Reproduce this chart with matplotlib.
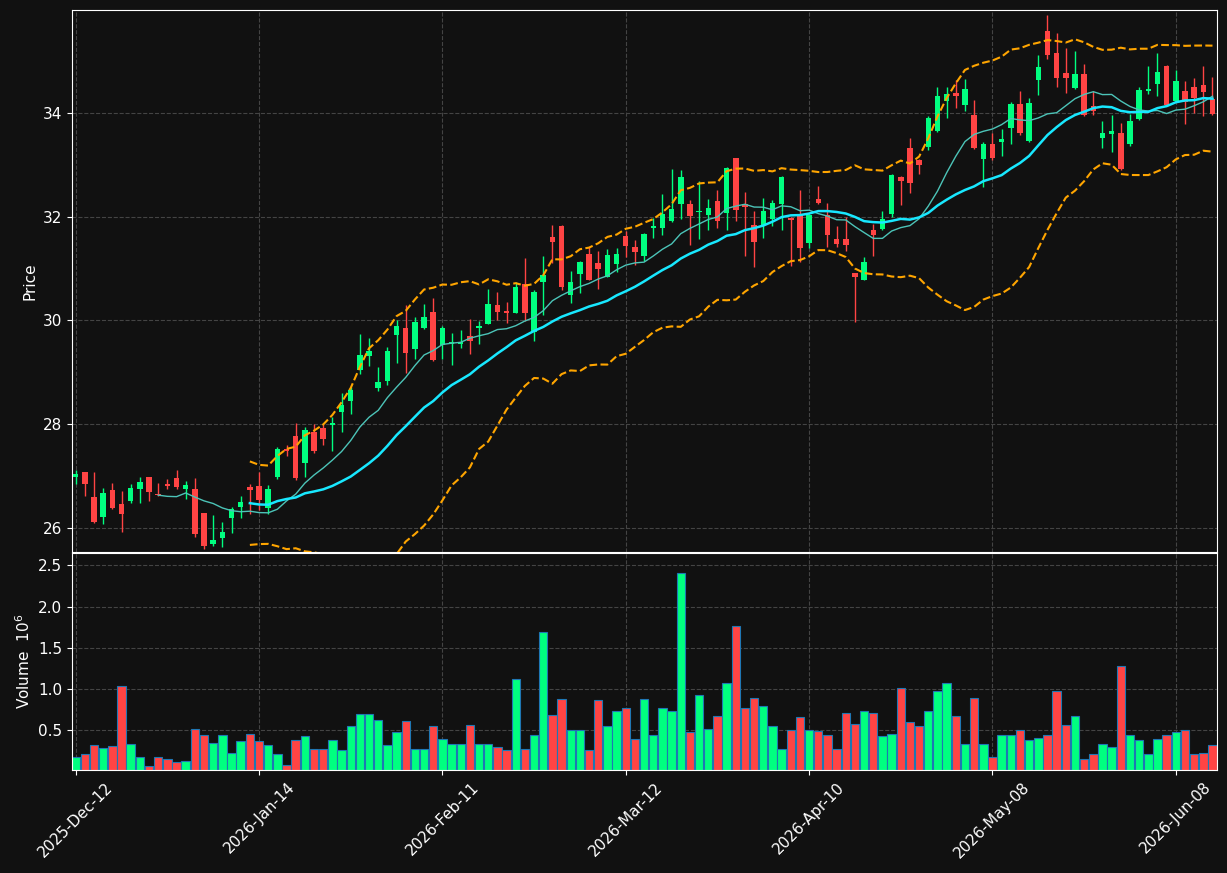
import matplotlib
matplotlib.use("Agg")
import matplotlib.pyplot as plt
import numpy as np
import pandas as pd
from matplotlib.ticker import FormatStrFormatter

# daily OHLC (125 sessions)
opens = [26.99, 27.08, 26.60, 26.22, 26.73, 26.46, 26.52, 26.75, 26.99, 26.66,
         26.85, 26.97, 26.75, 26.75, 26.29, 25.69, 25.81, 26.19, 26.40, 26.79,
         26.81, 26.39, 26.99, 27.52, 27.78, 27.26, 27.85, 27.93, 27.98, 28.23,
         28.44, 29.04, 29.31, 28.69, 28.83, 29.72, 29.86, 29.46, 29.86, 30.17,
         29.53, 29.54, 29.54, 29.71, 29.85, 29.93, 30.29, 30.19, 30.14, 30.70,
         29.78, 30.74, 31.60, 31.82, 30.49, 30.89, 31.28, 31.10, 30.84, 31.08,
         31.62, 31.41, 31.24, 31.78, 31.78, 31.92, 32.25, 32.24, 32.09, 32.03,
         32.31, 32.07, 33.13, 32.24, 31.84, 31.84, 31.95, 32.25, 31.98, 32.05,
         31.49, 32.34, 32.04, 31.57, 31.56, 30.91, 30.78, 31.74, 31.76, 32.05,
         32.76, 33.32, 33.09, 33.34, 33.65, 34.22, 34.39, 34.16, 33.96, 33.12,
         33.40, 33.43, 33.70, 34.17, 33.45, 34.64, 35.58, 35.16, 34.77, 34.47,
         34.75, 34.13, 33.52, 33.59, 33.61, 33.39, 33.89, 34.43, 34.55, 34.90,
         34.23, 34.42, 34.50, 34.54, 34.27]
highs = [27.11, 27.08, 27.08, 26.77, 26.86, 26.71, 26.85, 26.99, 26.99, 26.86,
         26.94, 27.12, 26.91, 26.96, 26.29, 26.25, 26.12, 26.40, 26.62, 26.85,
         27.08, 26.83, 27.56, 27.60, 28.02, 27.95, 28.00, 28.01, 28.14, 28.61,
         28.72, 29.73, 29.67, 29.11, 29.49, 30.01, 30.30, 30.07, 30.31, 30.44,
         29.89, 29.76, 29.81, 30.03, 29.99, 30.60, 30.54, 30.36, 30.75, 31.21,
         30.58, 31.24, 31.84, 31.84, 30.96, 31.14, 31.41, 31.33, 31.37, 31.39,
         31.72, 31.55, 31.68, 31.98, 32.43, 32.91, 32.89, 32.32, 32.68, 32.34,
         32.51, 32.95, 33.13, 32.47, 32.11, 32.36, 32.32, 32.78, 32.00, 32.51,
         32.05, 32.60, 32.26, 31.82, 32.00, 30.91, 31.22, 31.85, 32.10, 32.82,
         32.78, 33.51, 33.12, 33.94, 34.50, 34.50, 34.64, 34.66, 34.25, 33.43,
         33.61, 33.68, 34.21, 34.42, 34.28, 35.12, 35.89, 35.53, 35.24, 35.20,
         34.95, 34.42, 33.84, 33.95, 33.80, 33.97, 34.50, 34.91, 35.15, 34.92,
         34.82, 34.61, 34.67, 34.91, 34.69]
lows = [26.85, 26.62, 26.10, 26.07, 26.37, 25.93, 26.48, 26.48, 26.53, 26.62,
        26.76, 26.75, 26.57, 25.83, 25.60, 25.65, 25.64, 25.90, 26.20, 26.28,
        26.35, 26.28, 26.95, 27.38, 26.93, 26.98, 27.44, 27.60, 27.49, 27.86,
        28.20, 28.96, 29.12, 28.65, 28.75, 29.18, 28.99, 29.26, 29.83, 29.21,
        29.26, 29.14, 29.47, 29.36, 29.55, 29.93, 30.01, 29.96, 30.14, 29.99,
        29.61, 30.10, 31.10, 30.58, 30.34, 30.52, 30.77, 30.61, 30.84, 30.94,
        31.22, 31.06, 31.15, 31.58, 31.65, 31.90, 31.96, 31.46, 31.56, 31.75,
        31.78, 31.75, 31.91, 31.24, 31.03, 31.59, 31.82, 31.75, 31.05, 31.12,
        31.39, 32.25, 31.42, 31.42, 31.34, 29.97, 30.78, 31.24, 31.75, 32.00,
        32.23, 32.46, 32.83, 33.29, 33.63, 33.90, 34.10, 34.04, 33.31, 32.58,
        33.09, 33.17, 33.40, 33.57, 33.43, 34.35, 35.03, 34.50, 34.38, 34.45,
        33.93, 33.96, 33.32, 33.24, 32.90, 33.37, 33.87, 34.37, 34.33, 34.14,
        34.21, 33.78, 34.00, 33.93, 33.96]
closes = [27.04, 26.85, 26.12, 26.68, 26.39, 26.28, 26.77, 26.89, 26.70, 26.63,
          26.81, 26.79, 26.83, 25.89, 25.66, 25.77, 25.92, 26.36, 26.50, 26.73,
          26.54, 26.75, 27.52, 27.49, 26.97, 27.89, 27.48, 27.71, 28.02, 28.38,
          28.67, 29.34, 29.41, 28.82, 29.42, 29.90, 29.37, 29.98, 30.06, 29.23,
          29.85, 29.58, 29.59, 29.60, 29.89, 30.31, 30.16, 30.14, 30.64, 30.14,
          30.54, 30.88, 31.51, 30.64, 30.75, 31.12, 30.78, 30.99, 31.26, 31.29,
          31.44, 31.31, 31.66, 31.82, 32.05, 32.14, 32.76, 32.01, 32.11, 32.16,
          31.92, 32.93, 32.13, 32.18, 31.51, 32.11, 32.27, 32.76, 31.94, 31.39,
          32.03, 32.27, 31.65, 31.48, 31.46, 30.83, 31.12, 31.64, 31.95, 32.80,
          32.69, 32.65, 32.99, 33.90, 34.33, 34.37, 34.32, 34.46, 33.33, 33.40,
          33.13, 33.50, 34.17, 33.62, 34.19, 34.89, 35.11, 34.68, 34.68, 34.75,
          33.95, 34.03, 33.61, 33.65, 32.92, 33.85, 34.44, 34.46, 34.79, 34.16,
          34.62, 34.20, 34.28, 34.41, 33.98]
# volume in millions
volumes = [0.18, 0.22, 0.32, 0.29, 0.31, 1.04, 0.34, 0.18, 0.07, 0.18,
           0.15, 0.12, 0.13, 0.52, 0.44, 0.35, 0.45, 0.23, 0.37, 0.46,
           0.37, 0.32, 0.22, 0.085, 0.39, 0.43, 0.27, 0.28, 0.38, 0.26,
           0.55, 0.70, 0.70, 0.63, 0.32, 0.48, 0.61, 0.28, 0.28, 0.55,
           0.40, 0.33, 0.34, 0.57, 0.34, 0.33, 0.30, 0.26, 1.12, 0.27,
           0.45, 1.69, 0.69, 0.88, 0.50, 0.50, 0.26, 0.87, 0.55, 0.73,
           0.77, 0.40, 0.88, 0.44, 0.77, 0.73, 2.41, 0.48, 0.93, 0.52,
           0.67, 1.08, 1.77, 0.77, 0.89, 0.80, 0.56, 0.27, 0.50, 0.66,
           0.50, 0.49, 0.44, 0.28, 0.71, 0.58, 0.74, 0.71, 0.43, 0.46,
           1.02, 0.60, 0.56, 0.74, 0.98, 1.07, 0.67, 0.33, 0.89, 0.34,
           0.18, 0.45, 0.44, 0.50, 0.39, 0.41, 0.45, 0.98, 0.57, 0.67,
           0.16, 0.21, 0.34, 0.30, 1.28, 0.45, 0.38, 0.21, 0.40, 0.45,
           0.48, 0.51, 0.22, 0.23, 0.32]
holidays = ["2025-12-25", "2025-12-26", "2026-01-01", "2026-02-16", "2026-04-03", "2026-05-25"]
dates = pd.bdate_range("2025-12-12", periods=len(closes), freq="C", holidays=holidays)

bg = "#111111"
up_col = "#00ff80"
down_col = "#ff4444"

o = np.array(opens)
h = np.array(highs)
l = np.array(lows)
c = np.array(closes)
v = np.array(volumes)
x = np.arange(len(c))
cols = [up_col if c[i] >= o[i] else down_col for i in range(len(c))]

s = pd.Series(c)
ma10 = s.rolling(10).mean()
ma20 = s.rolling(20).mean()
sd20 = s.rolling(20).std(ddof=0)
upper = ma20 + 2 * sd20
lower = ma20 - 2 * sd20

fig = plt.figure(figsize=(12.27, 8.73), dpi=100, facecolor=bg)
ax1 = fig.add_axes([0.0587, 0.3677, 0.9332, 0.6208], facecolor=bg)
ax2 = fig.add_axes([0.0587, 0.1180, 0.9332, 0.2486], facecolor=bg, sharex=ax1)

# candles
body = np.maximum(np.abs(c - o), 0.01)
ax1.vlines(x, l, h, colors=cols, linewidth=1, zorder=2)
ax1.bar(x, body, bottom=np.minimum(o, c), width=0.6, color=cols, zorder=3)

ax1.plot(x, ma10, color="#4cc4b8", linewidth=1, zorder=4)
ax1.plot(x, ma20, color="#18e8ff", linewidth=1.8, zorder=4)
ax1.plot(x, upper, color="#ffa500", linewidth=1.5, linestyle="--", zorder=4)
ax1.plot(x, lower, color="#ffa500", linewidth=1.5, linestyle="--", zorder=4)

ax1.set_ylim(25.54, 35.98)
ax1.set_yticks([26, 28, 30, 32, 34])
ax1.set_xlim(-0.4, 124.5)
ax1.set_ylabel("Price", color="white", fontsize=11)

# volume
ax2.bar(x, v, width=0.92, color=cols, edgecolor="#1f77b4", linewidth=0.8)
ax2.set_ylim(0.3 * v.min(), 1.1 * v.max())
ax2.set_ylabel("Volume  $10^6$", color="white", fontsize=11)
ax2.yaxis.set_major_formatter(FormatStrFormatter("%.1f"))
ax2.set_yticks([0.5, 1.0, 1.5, 2.0, 2.5])

ticks = list(range(0, len(c), 20))
ax2.set_xticks(ticks)
ax2.set_xticklabels([dates[i].strftime("%Y-%b-%d") for i in ticks], rotation=45)
ax1.tick_params(axis="x", labelbottom=False, length=0)

for ax in (ax1, ax2):
    ax.grid(True, color="#444444", linestyle="--", linewidth=0.8)
    ax.set_axisbelow(True)
    ax.tick_params(colors="white", labelsize=11)
    for sp in ax.spines.values():
        sp.set_color("white")

fig.savefig("out.png", dpi=100, facecolor=bg)
